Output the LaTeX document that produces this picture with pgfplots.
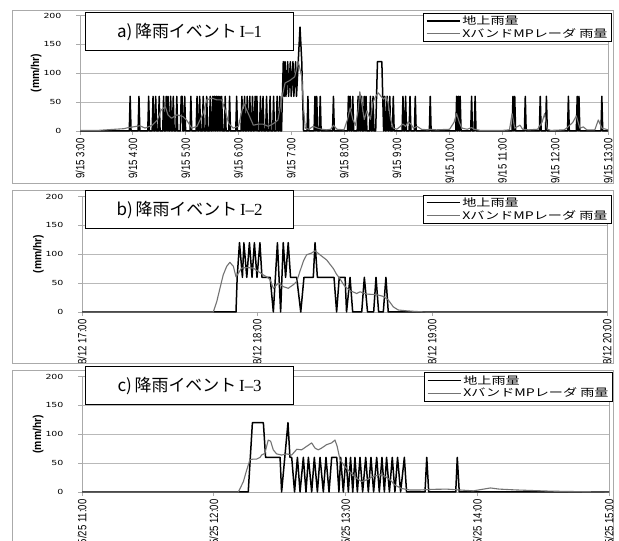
\documentclass[border=0pt]{standalone}
\usepackage{fontspec}
\usepackage{pgfplots}
\pgfplotsset{compat=1.18}
\setmainfont{Liberation Sans}
\newfontfamily\jp{Noto Sans CJK JP}
\newfontfamily\jpwide[FakeStretch=1.35]{Noto Sans CJK JP}
\newfontfamily\cond[FakeStretch=0.8]{Liberation Sans}
\newfontfamily\condb[FakeStretch=0.9]{Liberation Sans Bold}
\newfontfamily\tickwide[FakeStretch=1.35]{DejaVu Sans}
\newfontfamily\serifI{Liberation Serif}
\definecolor{radar}{RGB}{115,115,115}
\definecolor{frame}{RGB}{170,170,170}
\definecolor{gridc}{RGB}{185,185,185}

\pgfplotsset{
  panel/.style={
    scale only axis, anchor=south west, height=115.5bp,
    xmin=0, ymin=0, ymax=200, clip=false,
    ytick={0,50,100,150,200},
    ymajorgrids, grid style={gridc, line width=0.7bp},
    axis line style={frame, line width=0.8bp},
    tick style={frame, line width=0.7bp},
    tick align=outside, major tick length=4bp,
    xtick pos=bottom, ytick pos=left,
    /pgf/number format/assume math mode=true,
    yticklabel style={font=\tickwide\fontsize{7}{8}\selectfont, xshift=-11bp},
    xticklabel style={rotate=90, anchor=east, font=\cond\fontsize{12}{13}\selectfont},
    ylabel={(mm/hr)},
    ylabel style={at={(axis description cs:-0.083,0.5)}, anchor=center, font=\condb\fontsize{11.5}{12}\selectfont},
    legend image code/.code={\draw[##1] (0bp,0bp) -- (33bp,0bp);},
    legend style={draw=black, line width=0.8bp, fill=white, anchor=north east,
      font=\jpwide\fontsize{10.5}{10.5}\selectfont, inner xsep=2bp, inner ysep=0.5bp,
      row sep=-1.5bp, cells={anchor=west}},
  },
  ground/.style={black, line width=1.5bp, line join=round},
  xrad/.style={radar, line width=1.1bp, line join=round},
}

\begin{document}
\begin{tikzpicture}[x=1bp,y=1bp]
\useasboundingbox (0,0) rectangle (619,541);
\fill[white] (0,0) rectangle (619,541);

% ---------------- panel a ----------------
\begin{scope}
\clip (12,358) rectangle (613,531);
\begin{axis}[panel, at={(80bp,410bp)}, width=528bp, xmax=600,
  xtick={0,60,...,600},
  xticklabels={9/15 3:00,9/15 4:00,9/15 5:00,9/15 6:00,9/15 7:00,9/15 8:00,9/15 9:00,9/15 10:00,9/15 11:00,9/15 12:00,9/15 13:00},
  legend style={at={(1.0076,1.022)}}]
\addplot[ground] coordinates {(0,0)(56,0)(57,60)(58,0)(66,0)(67,60)(68,0)(77,0)(78,60)(79,0)(82,0)(83,60)(84,0)(85,0)(86,60)(87,0)(89,0)(90,60)(91,0)(94,0)(95,60)(96,0)(97,0)(98,60)(99,0)(100,60)(101,0)(102,0)(103,60)(104,0)(105,0)(106,60)(107,0)(109,0)(110,60)(111,0)(114,0)(115,60)(116,60)(117,0)(118,0)(119,60)(120,0)(125,0)(126,60)(127,0)(132,0)(133,60)(134,0)(135,0)(136,60)(137,0)(139,0)(140,60)(141,0)(143,0)(144,60)(145,0)(147,0)(148,60)(149,0)(150,0)(151,60)(152,0)(153,60)(154,0)(155,60)(156,0)(157,60)(158,0)(159,60)(160,0)(161,60)(162,0)(164,0)(165,60)(166,0)(169,0)(170,60)(171,0)(177,0)(178,60)(179,0)(183,0)(184,60)(185,0)(186,0)(187,60)(188,0)(189,0)(190,60)(191,0)(192,0)(193,60)(194,0)(195,0)(196,60)(197,0)(198,0)(199,60)(200,0)(201,60)(202,0)(204,0)(205,60)(206,0)(207,0)(208,60)(209,0)(211,0)(212,60)(213,0)(215,0)(216,60)(217,0)(219,0)(220,60)(221,0)(223,0)(224,60)(225,0)(226,0)(227,60)(228,0)(229,0)(230,60)(231,120)(232,60)(233,120)(234,60)(236,120)(237,60)(239,120)(240,60)(242,120)(243,60)(245,120)(246,60)(248,120)(250,180)(252,120)(253,60)(254,0)(258,0)(259,60)(260,0)(266,0)(267,60)(268,0)(269,60)(270,0)(272,0)(273,60)(274,0)(287,0)(288,60)(289,0)(304,0)(305,60)(306,0)(307,60)(308,0)(309,0)(310,60)(311,0)(315,0)(316,60)(317,0)(318,60)(319,0)(320,60)(321,0)(322,0)(323,60)(324,0)(325,60)(326,0)(329,0)(330,60)(331,0)(332,0)(333,60)(334,0)(336,0)(337,60)(338,120)(343,120)(344,60)(345,0)(346,60)(347,0)(348,0)(349,60)(350,0)(351,0)(352,60)(353,0)(355,0)(356,60)(357,0)(366,0)(367,60)(368,0)(369,0)(370,60)(371,0)(374,0)(375,60)(376,0)(380,0)(381,60)(382,0)(397,0)(398,60)(399,0)(427,0)(428,60)(429,0)(430,60)(431,0)(432,60)(433,0)(444,0)(445,60)(446,0)(448,0)(449,60)(450,0)(491,0)(492,60)(493,0)(494,60)(495,0)(505,0)(506,60)(507,0)(522,0)(523,60)(524,0)(529,0)(530,60)(531,0)(554,0)(555,60)(556,0)(564,0)(565,60)(566,0)(567,60)(568,0)(592,0)(593,60)(594,0)(600,0)};
\addlegendentry{地上雨量}
\addplot[xrad] coordinates {(0,1)(20,1)(40,3)(50,4)(55,6)(60,7)(68,9)(74,5)(82,10)(88,19)(92,36)(97,42)(100,28)(104,22)(110,28)(117,25)(121,19)(127,5)(133,8)(140,31)(144,54)(150,57)(155,54)(161,54)(165,36)(169,13)(174,5)(180,8)(186,48)(191,31)(197,10)(203,12)(208,12)(214,8)(220,13)(225,19)(229,54)(233,83)(239,88)(244,94)(248,120)(252,94)(254,40)(256,5)(260,3)(265,8)(270,5)(275,3)(280,2)(285,3)(288,10)(292,3)(300,2)(304,20)(307,40)(310,20)(313,10)(316,35)(318,68)(320,50)(323,20)(326,35)(330,20)(333,50)(336,60)(339,66)(342,60)(345,55)(348,60)(350,50)(353,20)(356,5)(360,3)(364,8)(367,12)(370,8)(373,16)(376,12)(379,5)(383,8)(388,3)(395,2)(398,3)(405,2)(420,3)(425,15)(428,30)(431,15)(434,5)(440,3)(445,6)(448,3)(455,1)(480,1)(488,2)(491,30)(494,5)(500,10)(503,3)(510,2)(520,3)(525,15)(528,30)(531,3)(535,1)(550,2)(553,5)(560,15)(564,26)(568,5)(572,7)(576,2)(585,2)(589,19)(593,5)(600,2)};
\addlegendentry{XバンドMPレーダ 雨量}
\end{axis}
\end{scope}
\draw[frame, line width=0.8bp] (12,358) rectangle (613,531);
\node[draw=black, line width=1.2bp, fill=white, minimum width=208bp, minimum height=38bp, anchor=north west, inner sep=0pt]
  at (85,529) {\jp\fontsize{17}{17}\selectfont a)\,降雨イベント\,{\serifI I–1}};

% ---------------- panel b ----------------
\begin{scope}
\clip (12,178) rectangle (613,351);
\begin{axis}[panel, at={(82bp,229bp)}, width=525bp, xmax=180,
  xtick={0,60,120,180},
  xticklabels={8/12 17:00,8/12 18:00,8/12 19:00,8/12 20:00},
  legend style={at={(1.0095,1.017)}}]
\addplot[ground] coordinates {(0,0)(52.8,0)(53.2,60)(54,120)(55,60)(55.5,120)(56.5,60)(57.4,120)(58.3,60)(59.1,120)(60,60)(61,120)(61.7,60)(64.5,60)(65.6,0)(67,120)(68.1,0)(69,120)(69.8,60)(70.7,120)(71.5,60)(73.6,60)(75,0)(76.1,60)(79.3,60)(79.9,120)(80.7,60)(86.4,60)(87.3,0)(88.2,60)(90.2,60)(90.7,0)(91.9,60)(92.8,0)(95.9,0)(96.8,60)(97.9,0)(100,0)(100.8,60)(101.7,0)(103.3,0)(104.2,60)(105,0)(180,0)};
\addlegendentry{地上雨量}
\addplot[xrad] coordinates {(0,0)(45,0)(46.2,18)(47.3,41)(48.4,64)(49.6,79)(50.7,86)(51.9,79)(52.8,61)(53.6,67)(54.7,76)(56.5,77)(58.7,76)(60.5,70)(62.2,64)(63.3,61)(64.5,56)(65.6,41)(67.3,50)(69,44)(70.7,41)(72.4,47)(73.6,53)(74.7,70)(75.9,88)(77,99)(78.7,102)(79.9,106)(81.6,99)(83.9,90)(86.2,75)(87.3,65)(88.4,58)(89.6,48)(90.7,42)(91.9,37)(94.2,32)(95.3,35)(97.6,31)(101,30)(103.3,27)(105,21)(106.7,9)(108.4,3.5)(111.3,2)(114.2,1)(118,0)(180,0)};
\addlegendentry{XバンドMPレーダ 雨量}
\end{axis}
\end{scope}
\draw[frame, line width=0.8bp] (12,178) rectangle (613,351);
\node[draw=black, line width=1.2bp, fill=white, minimum width=208bp, minimum height=38bp, anchor=north west, inner sep=0pt]
  at (85,351) {\jp\fontsize{17}{17}\selectfont b)\,降雨イベント\,{\serifI I–2}};

% ---------------- panel c ----------------
\draw[frame, line width=0.8bp] (12,-4) rectangle (613,171);
\begin{scope}
\clip (0,0) rectangle (619,171);
\begin{axis}[panel, at={(82bp,49bp)}, width=527bp, xmax=240,
  xtick={0,60,120,180,240},
  xticklabels={5/25 11:00,5/25 12:00,5/25 13:00,5/25 14:00,5/25 15:00},
  legend style={at={(1.0076,1.035)}}]
\addplot[ground] coordinates {(0,0)(75.7,0)(77.6,120)(82.6,120)(83.6,60)(90.2,60)(90.9,0)(93.8,120)(94.7,60)(95.5,60)(96.8,0)(98.1,60)(99.3,0)(100.8,60)(102.0,0)(103.1,60)(104.6,0)(105.8,60)(107.2,0)(108.4,60)(109.9,0)(111.1,60)(112.5,0)(113.7,60)(116.0,60)(117.0,0)(117.8,60)(119.0,0)(120.2,60)(121.3,0)(122.3,60)(123.3,0)(124.3,60)(125.4,0)(126.6,60)(127.8,0)(129.2,60)(130.4,0)(131.6,60)(132.8,0)(134.2,60)(135.4,0)(136.6,60)(137.7,0)(138.7,60)(140.0,0)(141.3,60)(142.5,0)(143.7,60)(145.1,0)(146.8,60)(147.8,0)(156.2,0)(157.0,60)(157.9,0)(170.2,0)(170.9,60)(171.8,0)(240,0)};
\addlegendentry{地上雨量}
\addplot[xrad] coordinates {(0,0)(71.2,0)(73.5,18)(75.0,38)(76.5,56)(78.0,57)(79.5,57)(81.1,60)(81.8,64)(83.3,67)(84.8,90)(85.9,88)(87.1,73)(88.6,66)(90.9,64)(93.2,66)(95.5,64)(97.8,74)(100.0,73)(102.3,79)(104.6,85)(106.1,76)(107.6,73)(109.1,76)(111.4,82)(113.7,85)(115.2,90)(116.2,79)(117.5,56)(119.7,44)(122.0,35)(125.0,24)(127.3,18)(129.6,21)(132.6,27)(135.7,30)(138.0,27)(140.3,21)(142.5,12)(145.6,6)(149.3,3.5)(153.9,3.5)(159.9,4.6)(166.0,5)(172.1,3.5)(178.2,2)(186,7)(190,5)(198,3.5)(213,1.5)(228,0.5)(240,0)};
\addlegendentry{XバンドMPレーダ 雨量}
\end{axis}
\end{scope}
\node[draw=black, line width=1.2bp, fill=white, minimum width=208bp, minimum height=38bp, anchor=north west, inner sep=0pt]
  at (85,175) {\jp\fontsize{17}{17}\selectfont c)\,降雨イベント\,{\serifI I–3}};
\end{tikzpicture}
\end{document}
